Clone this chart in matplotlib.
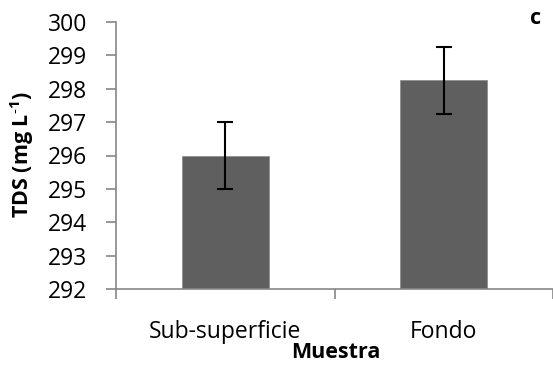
import matplotlib
matplotlib.use("Agg")
import matplotlib.pyplot as plt

categories = ["Sub-superficie", "Fondo"]
values = [296.0, 298.25]
errors = [1.0, 1.0]
yticks = [292, 293, 294, 295, 296, 297, 298, 299, 300]

plt.rcParams['font.family'] = ['Open Sans', 'DejaVu Sans']
plt.rcParams['mathtext.fontset'] = 'custom'
plt.rcParams['mathtext.rm'] = 'Open Sans'
plt.rcParams['mathtext.bf'] = 'Open Sans:bold'

W, H = 553, 371
fig = plt.figure(figsize=(W / 100, H / 100), dpi=100)
left, right, top, bottom = 116, 553, 22, 289
ax = fig.add_axes([left / W, 1 - bottom / H, (right - left) / W, (bottom - top) / H])

x = list(range(len(categories)))
ax.bar(x, [v - 292 for v in values], bottom=292, width=0.4, color='#5f5f5f',
       edgecolor='#8a8a8a', linewidth=0.5, zorder=2)
ax.errorbar(x, values, yerr=errors, fmt='none', ecolor='black', elinewidth=1.5,
            capsize=6, capthick=1.5, zorder=3)

ax.set_ylim(292, 300)
ax.set_yticks(yticks)
ax.set_xlim(-0.5, 1.5 - 3 / 220)
ax.set_xticks([-0.5, 0.5, 1.5])
ax.set_xticklabels([])
ax.tick_params(axis='x', which='major', length=7, width=1.2, color='#868686')
ax.set_xticks(x, minor=True)
ax.set_xticklabels(categories, minor=True, fontsize=16.5)
ax.tick_params(axis='x', which='minor', length=0, pad=22)
ax.tick_params(axis='y', length=7, width=1.2, color='#868686', labelsize=16.5, pad=14)

for s in ['top', 'right']:
    ax.spines[s].set_visible(False)
for s in ['left', 'bottom']:
    ax.spines[s].set_color('#868686')
    ax.spines[s].set_linewidth(1.2)

fig.text(22 / W, 1 - 155 / H, r'TDS (mg L$^{\mathbf{\text{-}1}}$)', rotation=90,
         fontsize=15.5, fontweight='bold', ha='center', va='center')
fig.text(336 / W, 1 - 352 / H, 'Muestra', fontsize=15.5, fontweight='bold',
         ha='center', va='center')
fig.text(536 / W, 1 - 18 / H, 'c', fontsize=15.5, fontweight='bold',
         ha='center', va='center')

fig.savefig('out.png', dpi=100)
